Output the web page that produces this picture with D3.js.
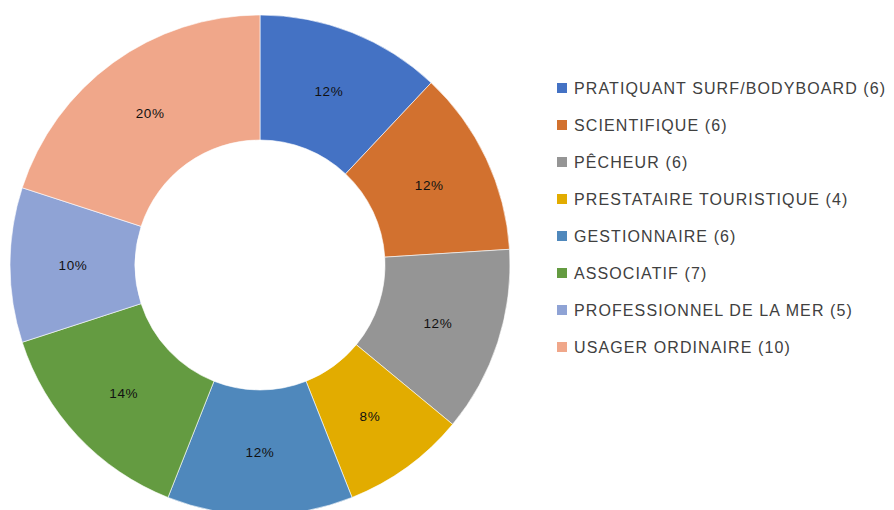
<!DOCTYPE html>
<html>
<head>
<meta charset="utf-8">
<script src="https://cdn.jsdelivr.net/npm/d3@7"></script>
<style>
    body { margin: 0; background: #fff; overflow: hidden; }
    svg { display: block; }
</style>
</head>
<body>
<div id="chart"></div>
<script>
const categories = [
    "PRATIQUANT SURF/BODYBOARD",
    "SCIENTIFIQUE",
    "PÊCHEUR",
    "PRESTATAIRE TOURISTIQUE",
    "GESTIONNAIRE",
    "ASSOCIATIF",
    "PROFESSIONNEL DE LA MER",
    "USAGER ORDINAIRE"
];
const counts = [6, 6, 6, 4, 6, 7, 5, 10];
const colors = ["#4472C4", "#D2712F", "#959595", "#E2AC00", "#4F88BC", "#649B41", "#8FA3D5", "#F0A78A"];

const width = 894;
const height = 510;
const cx = 260, cy = 265;
const outerR = 250, innerR = 125;

const svg = d3.select("#chart")
    .append("svg")
    .attr("width", width)
    .attr("height", height);

const total = d3.sum(counts);
const data = categories.map((c, i) => ({ name: c, value: counts[i], color: colors[i] }));

const pie = d3.pie()
    .value(d => d.value)
    .sort(null);

const arc = d3.arc()
    .innerRadius(innerR)
    .outerRadius(outerR);

const labelArc = d3.arc()
    .innerRadius(187)
    .outerRadius(187);

const g = svg.append("g")
    .attr("transform", `translate(${cx},${cy})`);

const arcs = pie(data);

g.selectAll("path")
    .data(arcs)
    .enter()
    .append("path")
    .attr("d", arc)
    .attr("fill", d => d.data.color)
    .attr("stroke", "#fff")
    .attr("stroke-width", 0.6);

g.selectAll("text.pct")
    .data(arcs)
    .enter()
    .append("text")
    .attr("class", "pct")
    .attr("transform", d => `translate(${labelArc.centroid(d)})`)
    .attr("text-anchor", "middle")
    .attr("dy", "0.35em")
    .style("font-family", "'Liberation Sans', Arial, sans-serif")
    .style("font-size", "13.5px")
    .style("letter-spacing", "0.6px")
    .style("fill", "#111")
    .text(d => Math.round(d.data.value / total * 100) + "%");

// legend
const legend = svg.append("g")
    .attr("transform", "translate(557,88)");

const rows = legend.selectAll("g")
    .data(data)
    .enter()
    .append("g")
    .attr("transform", (d, i) => `translate(0,${i * 37})`);

rows.append("rect")
    .attr("x", 0)
    .attr("y", -5)
    .attr("width", 10)
    .attr("height", 10)
    .attr("fill", d => d.color);

rows.append("text")
    .attr("x", 17)
    .attr("dy", "0.36em")
    .style("font-family", "'Liberation Sans', Arial, sans-serif")
    .style("font-size", "16px")
    .style("letter-spacing", "1.1px")
    .style("fill", "#404040")
    .text(d => `${d.name} (${d.value})`);
</script>
</body>
</html>
